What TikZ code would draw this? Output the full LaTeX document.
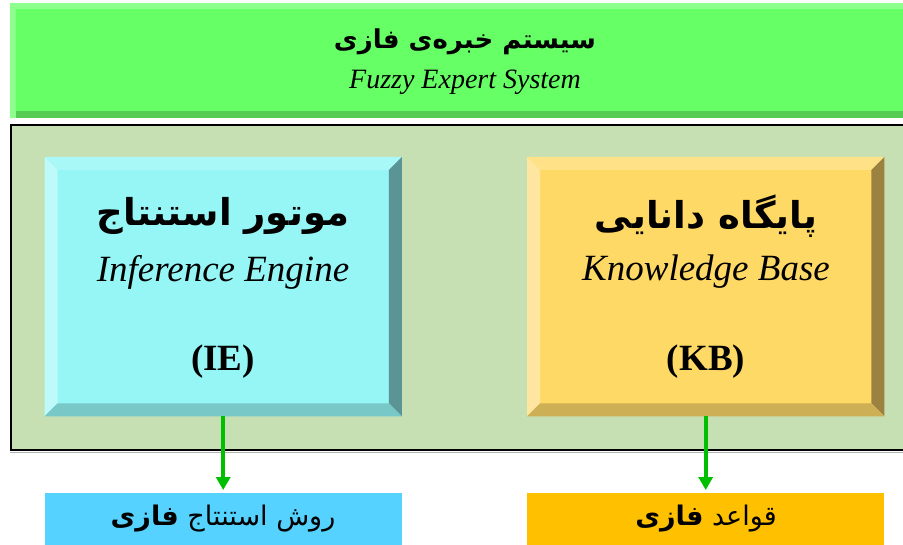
\documentclass[tikz,border=0pt]{standalone}
\usepackage{fontspec}
\setmainfont{Liberation Serif}
\newfontfamily\farsi[Script=Arabic]{DejaVu Sans}
\TeXXeTstate=1
\usetikzlibrary{arrows.meta,positioning,calc}

% colours
\definecolor{bannerface}{RGB}{102,255,102}
\definecolor{bannerlite}{RGB}{140,255,140}
\definecolor{bannerdark}{RGB}{85,205,85}
\definecolor{corefill}{RGB}{198,224,180}
\definecolor{ieface}{RGB}{150,245,245}
\definecolor{ietop}{RGB}{168,248,248}
\definecolor{ieleft}{RGB}{190,250,250}
\definecolor{ieright}{RGB}{90,148,148}
\definecolor{iebottom}{RGB}{120,200,200}
\definecolor{kbface}{RGB}{255,217,102}
\definecolor{kbtop}{RGB}{255,225,135}
\definecolor{kbleft}{RGB}{255,230,160}
\definecolor{kbright}{RGB}{155,130,65}
\definecolor{kbbottom}{RGB}{205,175,85}
\definecolor{iefill}{RGB}{85,210,255}
\definecolor{kbfill}{RGB}{255,192,0}
\definecolor{flowgreen}{RGB}{0,190,0}

% persian text, right to left
\newcommand\fa[1]{{\farsi\beginR #1\endR}}

% bevelled frame round a node: node, width, top, left, right, bottom
\newcommand\bevel[6]{%
  \fill[#3] (#1.north west) -- (#1.north east) -- ($(#1.north east)+(-#2,#2)$) -- ($(#1.north west)+(#2,#2)$) -- cycle;
  \fill[#4] (#1.north west) -- ($(#1.north west)+(#2,#2)$) -- ($(#1.south west)+(#2,-#2)$) -- (#1.south west) -- cycle;
  \fill[#5] (#1.north east) -- (#1.south east) -- ($(#1.south east)+(-#2,-#2)$) -- ($(#1.north east)+(-#2,#2)$) -- cycle;
  \fill[#6] (#1.south west) -- ($(#1.south west)+(#2,-#2)$) -- ($(#1.south east)+(-#2,-#2)$) -- (#1.south east) -- cycle;
}

\begin{document}
\begin{tikzpicture}[
    x=1pt, y=-1pt,
    % blocks
    panel/.style={rectangle, anchor=north west, inner sep=0pt, minimum width=357pt, minimum height=259pt},
    outbox/.style={rectangle, anchor=north west, inner sep=0pt, minimum width=357pt, minimum height=52pt},
    % texts
    fatitle/.style={font=\fontsize{37}{40}\selectfont\bfseries},
    entitle/.style={font=\fontsize{37}{40}\selectfont\itshape},
    abbrev/.style={font=\fontsize{37}{40}\selectfont\bfseries},
    outtext/.style={font=\fontsize{27}{30}\selectfont},
    % arrows
    flow/.style={-{Triangle[width=14pt,length=13pt]}, line width=4.3pt, draw=flowgreen, shorten >=3pt}
  ]
  \useasboundingbox (0,0) rectangle (903,545);

  % top banner
  \fill[bannerface] (10,3) rectangle (910,118);
  \fill[bannerlite] (10,3) rectangle (910,9);
  \fill[bannerlite] (10,3) rectangle (16,118);
  \fill[bannerdark] (16,111) rectangle (910,118);
  \node[font=\fontsize{26}{30}\selectfont\bfseries] (sysfa) at (465,42) {\fa{سیستم خبره‌ی فازی}};
  \node[font=\fontsize{28}{32}\selectfont\itshape] (sysen) at (465,82) {Fuzzy Expert System};

  % frame holding both parts
  \draw[fill=corefill, line width=2pt] (11,125) rectangle (915,450);
  \draw[black!30, line width=1pt] (10,452.5) -- (910,452.5);

  % the two bevelled blocks
  \node[panel, fill=ieface] (ie) at (44.5,157) {};
  \bevel{ie}{13}{ietop}{ieleft}{ieright}{iebottom}
  \node[panel, fill=kbface] (kb) at (527,157) {};
  \bevel{kb}{13}{kbtop}{kbleft}{kbright}{kbbottom}

  \node[fatitle] (iefa) at (223,216) {\fa{موتور استنتاج}};
  \node[entitle] (ieen) at (223,272) {Inference Engine};
  \node[abbrev] (ieab) at (223,362) {(IE)};
  \node[fatitle] (kbfa) at (706,216) {\fa{پایگاه دانایی}};
  \node[entitle] (kben) at (706,272) {Knowledge Base};
  \node[abbrev] (kbab) at (706,362) {(KB)};

  % outputs
  \node[outbox, fill=iefill] (iefz) at (44.5,493) {};
  \node[outtext] (iefzt) at (223,519) {\fa{روش استنتاج \textbf{فازی}}};
  \node[outbox, fill=kbfill] (kbfz) at (527,493) {};
  \node[outtext] (kbfzt) at (706,519) {\fa{قواعد \textbf{فازی}}};

  \draw[flow] (ie) -- (iefz);
  \draw[flow] (kb) -- (kbfz);
\end{tikzpicture}
\end{document}
